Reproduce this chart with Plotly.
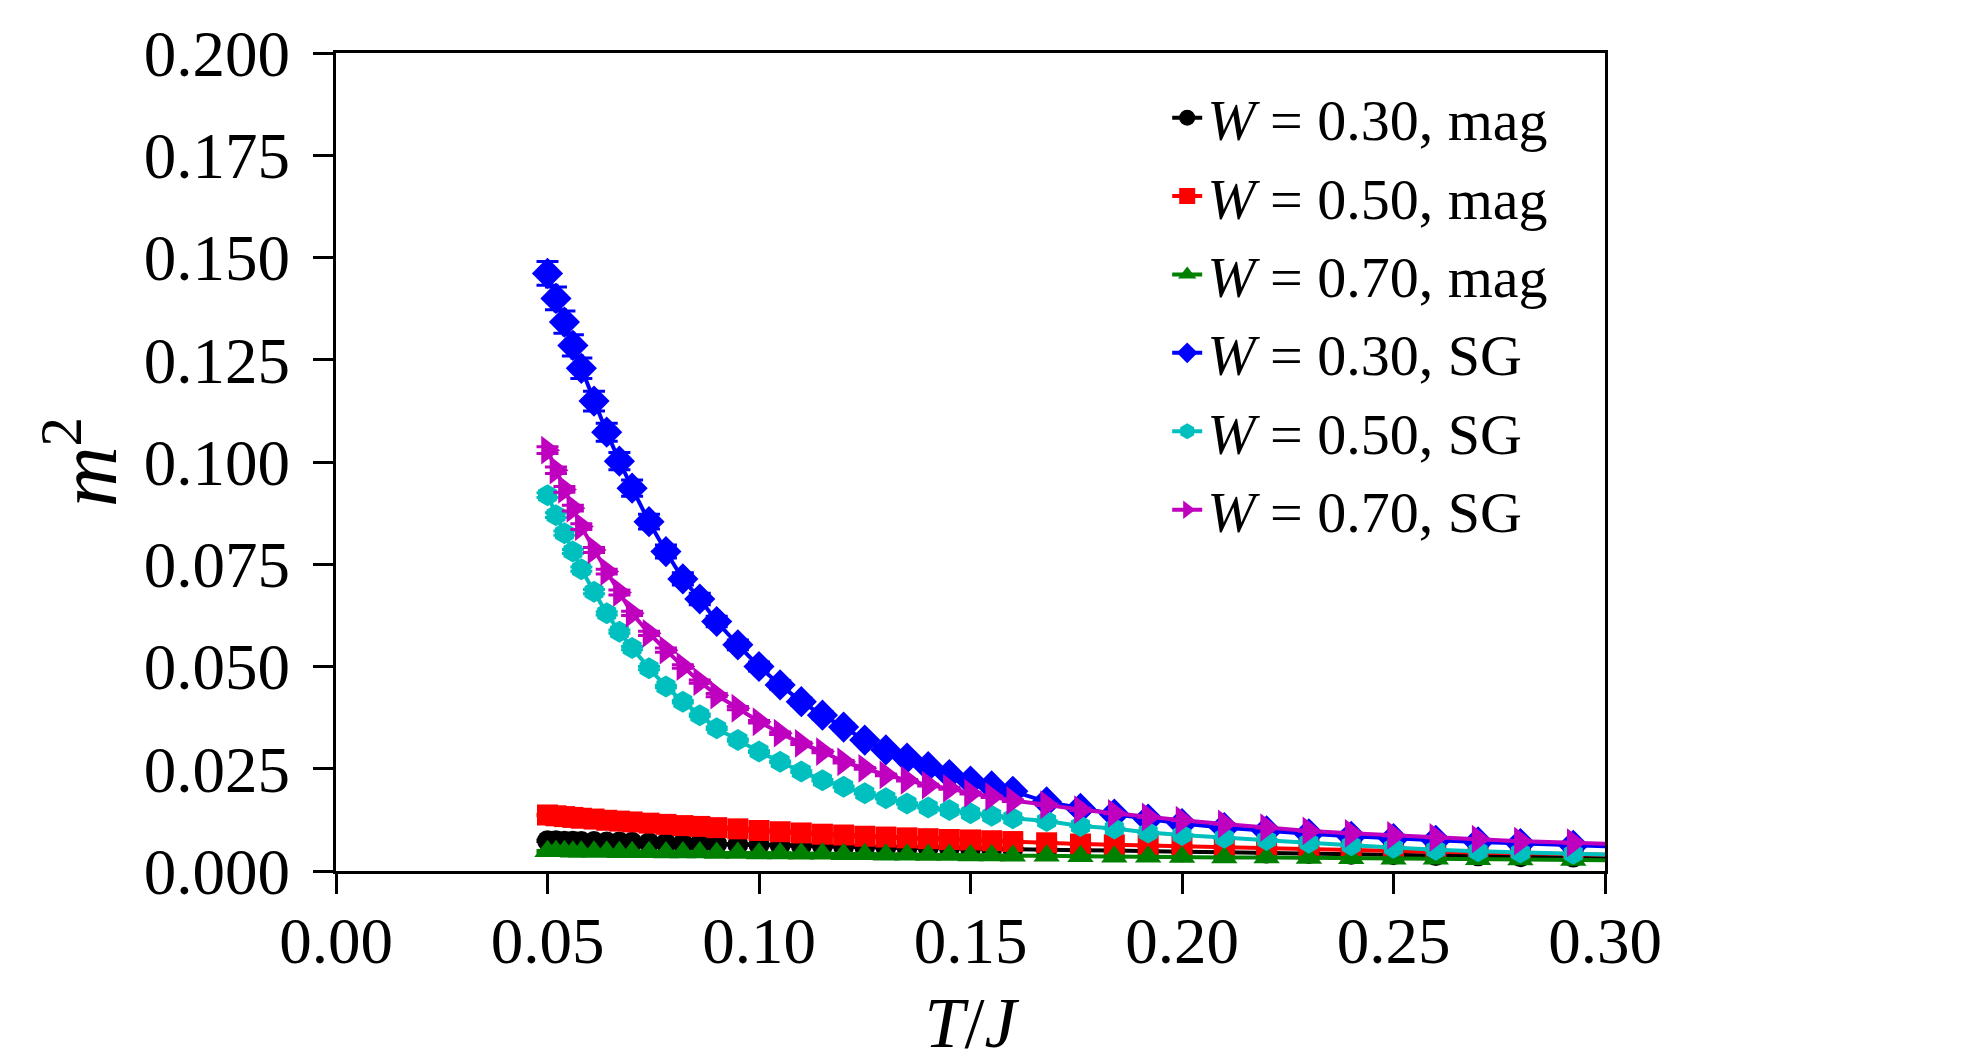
import plotly.graph_objects as go

# Temperature grid (T/J)
T = [0.050, 0.052, 0.054, 0.056, 0.058, 0.061, 0.064, 0.067, 0.070, 0.074,
     0.078, 0.082, 0.086, 0.090, 0.095, 0.100, 0.105, 0.110, 0.115, 0.120,
     0.125, 0.130, 0.135, 0.140, 0.145, 0.150, 0.155, 0.160, 0.168, 0.176,
     0.184, 0.192, 0.200, 0.210, 0.220, 0.230, 0.240, 0.250, 0.260, 0.270,
     0.280, 0.2925, 0.305]

# magnetization m^2
mag_030 = [0.0074, 0.0074, 0.0073, 0.0073, 0.0072, 0.0072, 0.0071, 0.0071, 0.0070, 0.0069,
           0.0068, 0.0067, 0.0066, 0.0066, 0.0065, 0.0064, 0.0063, 0.0062, 0.0061, 0.0060,
           0.0059, 0.0058, 0.0057, 0.0057, 0.0056, 0.0055, 0.0054, 0.0054, 0.0052, 0.0051,
           0.0050, 0.0048, 0.0047, 0.0046, 0.0044, 0.0043, 0.0041, 0.0040, 0.0038, 0.0037,
           0.0035, 0.0034, 0.0032]
mag_050 = [0.0137, 0.0135, 0.0133, 0.0131, 0.0129, 0.0127, 0.0124, 0.0122, 0.0120, 0.0117,
           0.0114, 0.0111, 0.0109, 0.0106, 0.0103, 0.0099, 0.0096, 0.0093, 0.0090, 0.0088,
           0.0085, 0.0083, 0.0081, 0.0079, 0.0077, 0.0076, 0.0074, 0.0072, 0.0069, 0.0066,
           0.0064, 0.0062, 0.0060, 0.0058, 0.0056, 0.0053, 0.0051, 0.0049, 0.0047, 0.0045,
           0.0043, 0.0041, 0.0039]
mag_070 = [0.0048, 0.0048, 0.0048, 0.0047, 0.0047, 0.0047, 0.0047, 0.0046, 0.0046, 0.0046,
           0.0045, 0.0045, 0.0045, 0.0044, 0.0044, 0.0043, 0.0043, 0.0042, 0.0042, 0.0041,
           0.0041, 0.0040, 0.0040, 0.0039, 0.0039, 0.0038, 0.0038, 0.0037, 0.0037, 0.0036,
           0.0035, 0.0035, 0.0034, 0.0033, 0.0033, 0.0032, 0.0031, 0.0030, 0.0030, 0.0029,
           0.0028, 0.0027, 0.0026]

# spin-glass order parameter
sg_030 = [0.1461, 0.1400, 0.1342, 0.1285, 0.1229, 0.1149, 0.1073, 0.1002, 0.0936, 0.0854,
          0.0781, 0.0714, 0.0665, 0.0610, 0.0553, 0.0500, 0.0455, 0.0414, 0.0381, 0.0352,
          0.0320, 0.0296, 0.0276, 0.0255, 0.0236, 0.0220, 0.0208, 0.0195, 0.0169, 0.0153,
          0.0139, 0.0127, 0.0116, 0.0106, 0.0098, 0.0091, 0.0085, 0.0079, 0.0075, 0.0071,
          0.0067, 0.0063, 0.0059]
sg_050 = [0.0919, 0.0870, 0.0826, 0.0781, 0.0738, 0.0683, 0.0630, 0.0585, 0.0545, 0.0496,
          0.0451, 0.0414, 0.0381, 0.0349, 0.0320, 0.0292, 0.0267, 0.0243, 0.0222, 0.0206,
          0.0190, 0.0178, 0.0165, 0.0155, 0.0149, 0.0141, 0.0135, 0.0129, 0.0122, 0.0110,
          0.0104, 0.0094, 0.0088, 0.0081, 0.0076, 0.0069, 0.0063, 0.0057, 0.0052, 0.0048,
          0.0045, 0.0042, 0.0039]
sg_070 = [0.1029, 0.0980, 0.0933, 0.0887, 0.0842, 0.0785, 0.0732, 0.0681, 0.0630, 0.0581,
          0.0540, 0.0500, 0.0463, 0.0430, 0.0398, 0.0365, 0.0337, 0.0312, 0.0292, 0.0267,
          0.0251, 0.0235, 0.0222, 0.0210, 0.0202, 0.0190, 0.0182, 0.0172, 0.0162, 0.0150,
          0.0141, 0.0132, 0.0124, 0.0115, 0.0106, 0.0098, 0.0092, 0.0087, 0.0082, 0.0078,
          0.0073, 0.0069, 0.0065]

# error bars
err_sg_030 = [0.0029, 0.0028, 0.0027, 0.0026, 0.0025, 0.0024, 0.0022, 0.0021, 0.0020, 0.0018,
              0.0016, 0.0015, 0.0014, 0.0013, 0.0012, 0.0011, 0.0010, 0.0009, 0.0009, 0.0008,
              0.0007, 0.0007, 0.0006, 0.0006, 0.0005, 0.0005, 0.0005, 0.0004, 0.0004, 0.0004,
              0.0003, 0.0003, 0.0003, 0.0003, 0.0002, 0.0002, 0.0002, 0.0002, 0.0002, 0.0002,
              0.0002, 0.0002, 0.0002]
err_sg_070 = [0.0008, 0.0008, 0.0007, 0.0007, 0.0007, 0.0006, 0.0006, 0.0006, 0.0005, 0.0005,
              0.0005, 0.0004, 0.0004, 0.0004, 0.0004, 0.0003, 0.0003, 0.0003, 0.0003, 0.0003,
              0.0002, 0.0002, 0.0002, 0.0002, 0.0002, 0.0002, 0.0002, 0.0002, 0.0002, 0.0002,
              0.0001, 0.0001, 0.0001, 0.0001, 0.0001, 0.0001, 0.0001, 0.0001, 0.0001, 0.0001,
              0.0001, 0.0001, 0.0001]
err_sg_050 = [0.0006, 0.0006, 0.0005, 0.0005, 0.0005, 0.0005, 0.0004, 0.0004, 0.0004, 0.0004,
              0.0003, 0.0003, 0.0003, 0.0003, 0.0003, 0.0002, 0.0002, 0.0002, 0.0002, 0.0002,
              0.0002, 0.0002, 0.0002, 0.0001, 0.0001, 0.0001, 0.0001, 0.0001, 0.0001, 0.0001,
              0.0001, 0.0001, 0.0001, 0.0001, 0.0001, 0.0001, 0.0001, 0.0001, 0.0001, 0.0001,
              0.0001, 0.0001, 0.0001]
err_mag = [0.0002] * 10 + [0.00015] * 15 + [0.0001] * 18

labels = ["<i>W</i> = 0.30, mag", "<i>W</i> = 0.50, mag", "<i>W</i> = 0.70, mag",
          "<i>W</i> = 0.30, SG", "<i>W</i> = 0.50, SG", "<i>W</i> = 0.70, SG"]
series = [mag_030, mag_050, mag_070, sg_030, sg_050, sg_070]
errors = [err_mag, err_mag, err_mag, err_sg_030, err_sg_050, err_sg_070]
colors = ["#000000", "#ff0000", "#008000", "#0000ff", "#00bfbf", "#bf00bf"]
symbols = ["circle", "square", "triangle-up", "diamond", "hexagon", "triangle-right"]
sizes = [21, 21, 23, 24, 22, 25]

FONT = "Liberation Serif"

fig = go.Figure()
for lab, ys, er, col, sym, sz in zip(labels, series, errors, colors, symbols, sizes):
    fig.add_trace(go.Scatter(
        x=T, y=ys, name=lab, mode="lines+markers",
        line=dict(color=col, width=4),
        marker=dict(color=col, symbol=sym, size=sz, line=dict(width=0)),
        error_y=dict(type="data", array=er, visible=True, color=col,
                     thickness=3, width=11),
    ))

axis_common = dict(
    showline=True, linecolor="black", linewidth=3, mirror=True,
    ticks="outside", ticklen=20, tickwidth=3, tickcolor="black",
    showgrid=False, zeroline=False, automargin=False,
    tickfont=dict(family=FONT, size=65, color="black"),
)

fig.update_layout(
    width=1980, height=1063,
    paper_bgcolor="white", plot_bgcolor="white",
    margin=dict(l=336, r=375, t=53, b=192),
    xaxis=dict(range=[0, 0.30], dtick=0.05, tick0=0, tickformat=".2f",
               ticklabelstandoff=-9,
               title=dict(text="<i>T</i>/<i>J</i>", standoff=24,
                          font=dict(family=FONT, size=72, color="black")),
               **axis_common),
    yaxis=dict(range=[0, 0.20], dtick=0.025, tick0=0, tickformat=".3f",
               ticklabelstandoff=10,
               title=dict(text="<i>m</i><sup>2</sup>", standoff=0,
                          font=dict(family=FONT, size=84, color="black")),
               **axis_common),
    legend=dict(x=0.655, y=0.975, xanchor="left", yanchor="top",
                bgcolor="rgba(0,0,0,0)", borderwidth=0,
                font=dict(family=FONT, size=58, color="black")),
    showlegend=True,
)

fig.write_html("out.html")
